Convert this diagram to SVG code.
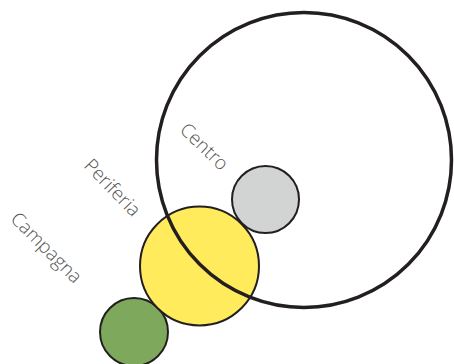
<svg xmlns="http://www.w3.org/2000/svg" width="454" height="364" viewBox="0 0 454 364">
<style>
.lbl{font-family:"Open Sans","Liberation Sans",sans-serif;font-weight:300;font-size:19px;fill:#555;text-anchor:middle}
.c{stroke:#231f20;stroke-width:2}
</style>
<rect width="454" height="364" fill="#fff"/>
<g id="campagna">
<circle cx="134" cy="332" r="34" fill="#7ea85c" class="c"/>
<text class="lbl" transform="translate(46 248) rotate(45)" dy="6">Campagna</text>
</g>
<g id="periferia">
<circle cx="199.5" cy="266" r="59.5" fill="#ffeb5b" class="c"/>
<text class="lbl" transform="translate(112 188) rotate(46)" dy="6">Periferia</text>
</g>
<g id="centro">
<circle cx="265.5" cy="199.5" r="33.5" fill="#d2d3d3" class="c"/>
<text class="lbl" transform="translate(204 147) rotate(44)" dy="6">Centro</text>
</g>
<g id="citta">
<circle cx="304" cy="160" r="147.5" fill="none" stroke="#231f20" stroke-width="3.5"/>
</g>
</svg>
